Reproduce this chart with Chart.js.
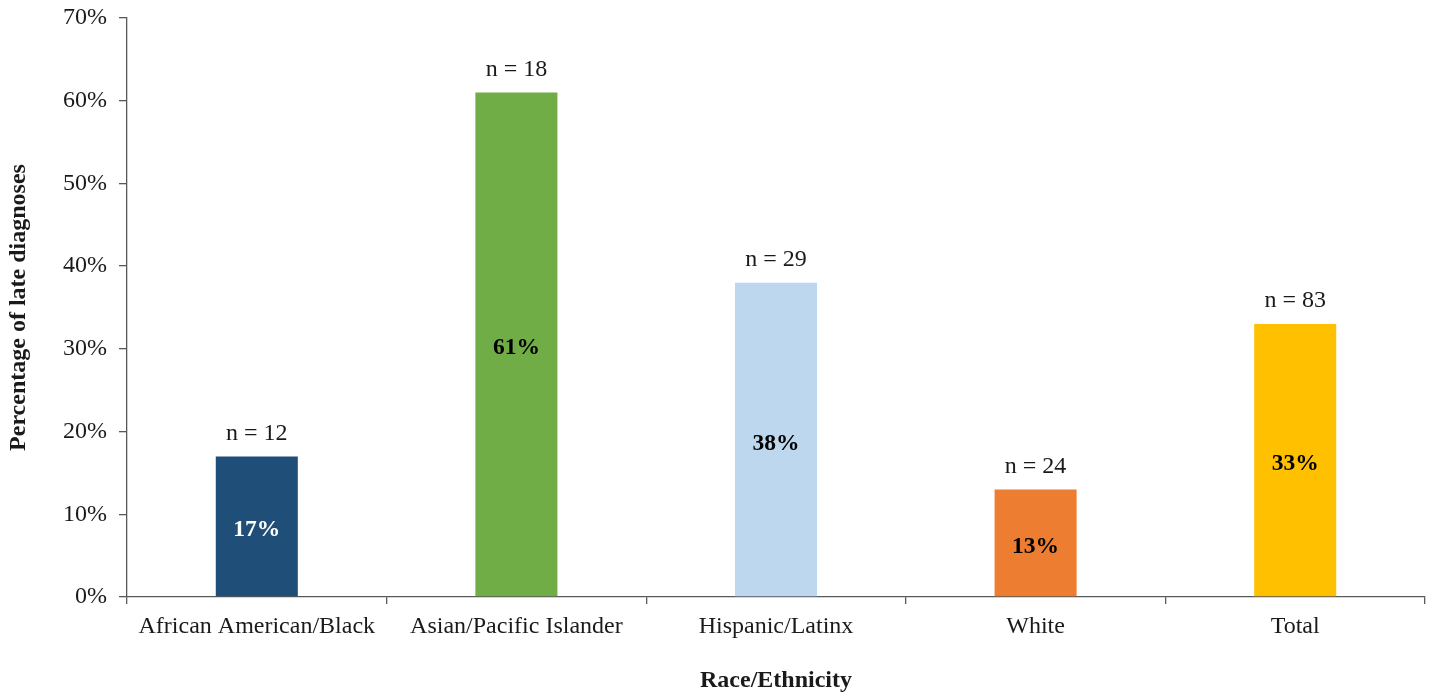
<!DOCTYPE html>
<html><head><meta charset="utf-8">
<script src="https://cdn.jsdelivr.net/npm/chart.js@4"></script>
<style>html,body{margin:0;padding:0;background:#fff;}canvas{display:block;}</style>
</head><body>
<canvas id="c" width="1433" height="692"></canvas>
<script>
const categories = ["African American/Black", "Asian/Pacific Islander", "Hispanic/Latinx", "White", "Total"];
const percentLate = [17, 61, 38, 13, 33];
const sampleSizes = [12, 18, 29, 24, 83];
const barColors = ["#1F4E79", "#70AD47", "#BDD7EE", "#ED7D31", "#FFC000"];
const valueLabelColors = ["#FFFFFF", "#000000", "#000000", "#000000", "#000000"];

const FONT = "'Liberation Serif', 'Times New Roman', serif";

const labelPlugin = {
  id: 'barLabels',
  afterDatasetsDraw(chart) {
    const ctx = chart.ctx;
    const meta = chart.getDatasetMeta(0);
    ctx.save();
    ctx.textAlign = 'center';
    ctx.textBaseline = 'middle';
    meta.data.forEach((bar, i) => {
      const mid = (bar.y + bar.base) / 2;
      ctx.font = "bold 23.5px " + FONT;
      ctx.fillStyle = valueLabelColors[i];
      ctx.fillText(percentLate[i] + "%", bar.x, mid + 4);
      ctx.font = "24px " + FONT;
      ctx.fillStyle = "#1a1a1a";
      ctx.fillText("n = " + sampleSizes[i], bar.x, bar.y - 23);
    });
    ctx.restore();
  }
};

new Chart(document.getElementById('c'), {
  type: 'bar',
  data: {
    labels: categories,
    datasets: [{
      data: percentLate,
      backgroundColor: barColors,
      borderWidth: 0,
      barPercentage: 0.316,
      categoryPercentage: 1
    }]
  },
  options: {
    responsive: false,
    animation: false,
    layout: { padding: { top: 18, right: 8, left: 0, bottom: 0 } },
    plugins: { legend: { display: false }, tooltip: { enabled: false } },
    scales: {
      x: {
        grid: { display: true, drawOnChartArea: false, drawTicks: true, tickLength: 7, color: "#595959", lineWidth: 1.3, offset: true },
        border: { display: true, color: "#595959", width: 1.3 },
        ticks: { color: "#1a1a1a", font: { family: FONT, size: 24 }, padding: 8, maxRotation: 0, autoSkip: false },
        title: { display: true, text: "Race/Ethnicity", color: "#1a1a1a", font: { family: FONT, size: 24, weight: 'bold' }, padding: { top: 0, bottom: -3 } },
        afterFit(scale) { scale.height = 95; scale.paddingLeft = 0; scale.paddingRight = 0; }
      },
      y: {
        min: 0, max: 70,
        grid: { display: true, drawOnChartArea: false, drawTicks: true, tickLength: 8, color: "#595959", lineWidth: 1.3 },
        border: { display: true, color: "#595959", width: 1.3 },
        ticks: { stepSize: 10, color: "#1a1a1a", font: { family: FONT, size: 24 }, padding: 12, callback: v => v + "%" },
        title: { display: true, text: "Percentage of late diagnoses", color: "#1a1a1a", font: { family: FONT, size: 24, weight: 'bold' }, padding: { top: 4, bottom: 0 } },
        afterFit(scale) { scale.width = 127; scale.paddingTop = 0; scale.paddingBottom = 0; }
      }
    }
  },
  plugins: [labelPlugin]
});
</script>
</body></html>
